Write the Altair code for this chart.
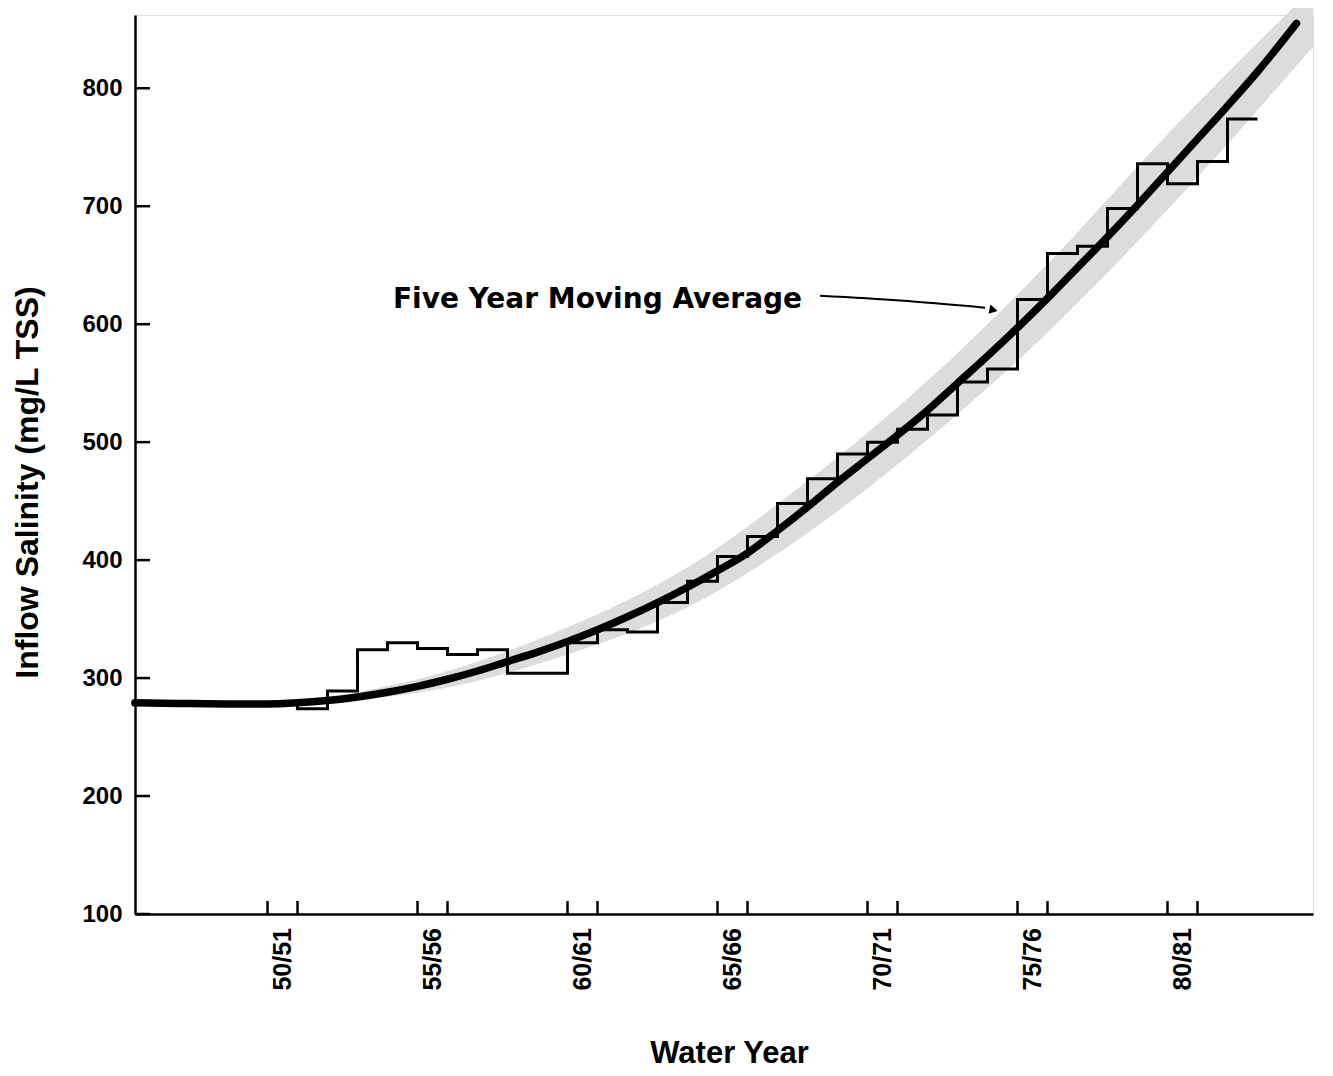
import altair as alt
import pandas as pd

# ---- data ----
curve_year = [1945.58, 1947, 1949, 1950, 1951, 1952, 1953, 1954, 1955, 1956, 1957, 1958,
              1959, 1960, 1961, 1962, 1963, 1964, 1965, 1966, 1967, 1968, 1969, 1970,
              1971, 1972, 1973, 1974, 1975, 1976, 1977, 1978, 1979, 1980, 1981, 1982,
              1983, 1984.3]
curve_value = [279, 278.5, 278, 278, 279, 281, 284, 288, 293, 299, 306, 314,
               322, 331, 341, 352, 364, 377, 391, 406, 425, 445, 466, 486,
               506, 527, 550, 573, 597, 622, 648, 674, 701, 729, 757, 785,
               814, 855]

step_year = [1950, 1951, 1952, 1953, 1954, 1955, 1956, 1957, 1958, 1959, 1960,
             1961, 1962, 1963, 1964, 1965, 1966, 1967, 1968, 1969, 1970, 1971,
             1972, 1973, 1974, 1975, 1976, 1977, 1978, 1979, 1980, 1981, 1982, 1983]
step_value = [279, 274, 289, 324, 330, 325, 320, 324, 304, 304, 330,
              341, 339, 364, 382, 403, 420, 448, 469, 490, 500, 511,
              523, 551, 562, 621, 660, 666, 698, 736, 719, 738, 774, 774]

band_year = [1952, 1956, 1960, 1964, 1968, 1972, 1976, 1980, 1984.85]
band_low = [279, 292, 320, 360, 423, 502, 593, 697, 835]
band_high = [283, 306, 343, 394, 467, 552, 651, 761, 885]

x_tick_years = [1950, 1951, 1955, 1956, 1960, 1961, 1965, 1966,
                1970, 1971, 1975, 1976, 1980, 1981]
x_label_pos = [1950.5, 1955.5, 1960.5, 1965.5, 1970.5, 1975.5, 1980.5]
x_label_text = ["50/51", "55/56", "60/61", "65/66", "70/71", "75/76", "80/81"]
y_tick_values = [100, 200, 300, 400, 500, 600, 700, 800]

ann_text = ["Five Year Moving Average"]
ann_x = [1954.18]
ann_y = [614]
arrow_x = [1968.42, 1971.08, 1973.92]
arrow_y = [624, 620, 614]
arrow_head_x = [1974.2]
arrow_head_y = [612]

# ---- tables ----
curve_df = pd.DataFrame({"year": curve_year, "value": curve_value})
step_df = pd.DataFrame({"year": step_year, "value": step_value})
band_df = pd.DataFrame({"year": band_year, "lo": band_low, "hi": band_high})
xt_df = pd.DataFrame({"year": x_tick_years})
xl_df = pd.DataFrame({"year": x_label_pos, "label": x_label_text})
yt_df = pd.DataFrame({"value": y_tick_values})
ann_df = pd.DataFrame({"year": ann_x, "value": ann_y, "text": ann_text})
arrow_df = pd.DataFrame({"year": arrow_x, "value": arrow_y})
head_df = pd.DataFrame({"year": arrow_head_x, "value": arrow_head_y})

W, H = 1178, 899
xs = alt.Scale(domain=[1945.583, 1984.85], nice=False, zero=False)
ys = alt.Scale(domain=[100, 862.1], nice=False, zero=False)

x_axis = alt.Axis(labels=False, ticks=False, grid=False, domain=True,
                  domainColor="black", domainWidth=2.5,
                  title="Water Year", titleFont="Liberation Sans",
                  titleFontSize=31, titleFontWeight="bold", titleColor="black",
                  titleX=594, titleY=148, titleAlign="center",
                  titleBaseline="alphabetic", titleAnchor="start")
y_axis = alt.Axis(values=y_tick_values, ticks=False, grid=False, domain=True,
                  domainColor="black", domainWidth=2.5,
                  labelFont="Liberation Sans", labelFontSize=24,
                  labelFontWeight="bold", labelColor="black", labelPadding=13,
                  labelBaseline="middle",
                  title="Inflow Salinity (mg/L TSS)", titleFont="Liberation Sans",
                  titleFontSize=32, titleFontWeight="bold", titleColor="black",
                  titleAngle=270, titleX=-108, titleY=467, titleAlign="center",
                  titleBaseline="middle", titleAnchor="start")

X = lambda f: alt.X(f, type="quantitative", scale=xs, axis=x_axis)
Y = lambda f: alt.Y(f, type="quantitative", scale=ys, axis=y_axis)

band = alt.Chart(band_df).mark_area(color="#dcdcdc", interpolate="monotone").encode(
    x=X("year"), y=Y("lo"), y2="hi")

steps = alt.Chart(step_df).mark_line(interpolate="step-after", color="black",
                                     strokeWidth=3, strokeJoin="miter").encode(
    x=X("year"), y=Y("value"))

curve = alt.Chart(curve_df).mark_line(interpolate="monotone", color="black",
                                      strokeWidth=7.5, strokeCap="round").encode(
    x=X("year"), y=Y("value"))

x_ticks = alt.Chart(xt_df).mark_rule(color="black", strokeWidth=2.5).encode(
    x=X("year"), y=alt.value(H - 13), y2=alt.value(H))

y_ticks = alt.Chart(yt_df).mark_rule(color="black", strokeWidth=2.5).encode(
    y=Y("value"), x=alt.value(0), x2=alt.value(15))

x_labels = alt.Chart(xl_df).mark_text(
    angle=270, align="right", baseline="middle", font="Liberation Sans",
    fontSize=25, fontWeight="bold", color="black").encode(
    x=X("year"), y=alt.value(H + 14), text="label")

ann = alt.Chart(ann_df).mark_text(
    align="left", baseline="alphabetic", font="DejaVu Sans", fontSize=28,
    fontWeight="bold", color="black").encode(
    x=X("year"), y=Y("value"), text="text")

arrow = alt.Chart(arrow_df).mark_line(color="black", strokeWidth=2,
                                      interpolate="monotone").encode(
    x=X("year"), y=Y("value"))

head = alt.Chart(head_df).mark_point(shape="triangle-right", filled=True,
                                     color="black", size=90, angle=12,
                                     opacity=1).encode(
    x=X("year"), y=Y("value"))

chart = alt.layer(band, steps, curve, x_ticks, y_ticks, x_labels, ann, arrow, head).properties(
    width=W, height=H,
    autosize="none",
    padding={"left": 127, "top": 7, "right": 12, "bottom": 154},
).configure_view(stroke=None).configure(background="white")

chart.save("out.html", embed_options={"renderer": "svg", "actions": False})
